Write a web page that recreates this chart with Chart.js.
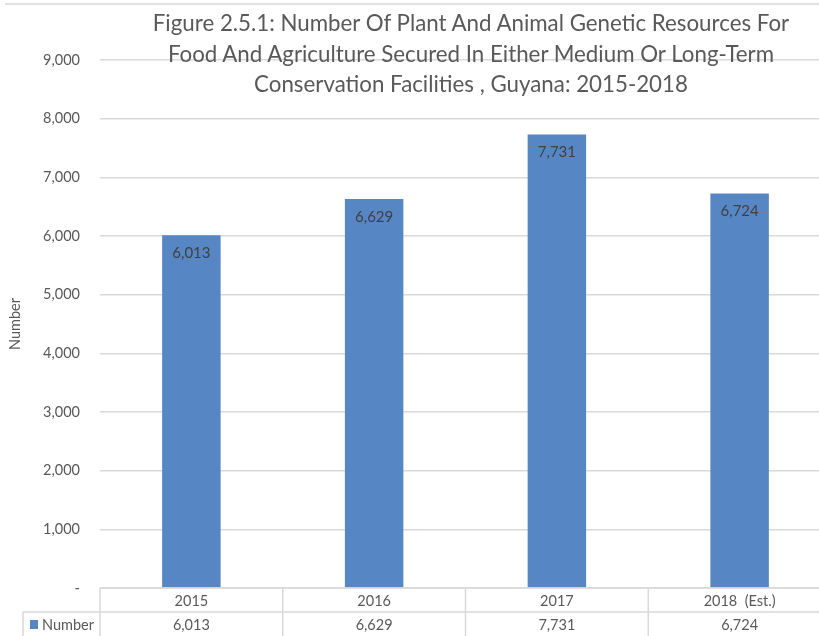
<!DOCTYPE html>
<html>
<head>
<meta charset="utf-8">
<script src="https://cdn.jsdelivr.net/npm/chart.js@4.4.1/dist/chart.umd.min.js"></script>
<style>
  body { margin: 0; background: #fff; }
  #wrap { position: relative; width: 819px; height: 636px; overflow: hidden; }
  #title {
    position: absolute; left: 0; width: 942px; top: 8px;
    text-align: center; font-family: Lato, sans-serif; font-size: 22.3px;
    line-height: 30.5px; color: #595959; pointer-events: none;
  }
</style>
</head>
<body>
<div id="wrap">
  <canvas id="chart" width="838" height="636"></canvas>
  <div id="title"></div>
</div>
<script>
const titleLines = [
  'Figure 2.5.1: Number Of Plant And Animal Genetic Resources For',
  'Food And Agriculture Secured In Either Medium Or Long-Term',
  'Conservation Facilities , Guyana: 2015-2018'
];
const years = ['2015', '2016', '2017', '2018  (Est.)'];
const numbers = [6013, 6629, 7731, 6724];
const seriesName = 'Number';
const yTicks = [0, 1000, 2000, 3000, 4000, 5000, 6000, 7000, 8000, 9000];

document.getElementById('title').innerHTML = titleLines.join('<br>');

const textColor = '#595959';
const lineColor = '#d9d9d9';
const barColor = '#5687c4';
const fmt = v => v.toLocaleString('en-US');

// labels inside the bars + the data table under the axis
const tablePlugin = {
  id: 'tablePlugin',
  afterDraw(chart) {
    const ctx = chart.ctx;
    const area = chart.chartArea;
    const x = chart.scales.x;
    const meta = chart.getDatasetMeta(0);
    ctx.save();
    ctx.font = '15px Lato';
    ctx.fillStyle = '#404040';
    ctx.textAlign = 'center';
    ctx.textBaseline = 'middle';
    meta.data.forEach((bar, i) => {
      ctx.fillText(fmt(numbers[i]), bar.x, bar.y + 18);
    });

    const row1 = area.bottom;
    const row2 = row1 + 24;
    const end = chart.height;
    const step = (area.right - area.left) / years.length;
    ctx.strokeStyle = lineColor;
    ctx.lineWidth = 1.5;
    ctx.beginPath();
    ctx.moveTo(area.left, row1); ctx.lineTo(area.right, row1);
    ctx.moveTo(23, row2); ctx.lineTo(area.right, row2);
    for (let i = 0; i <= years.length; i++) {
      const px = area.left + step * i;
      ctx.moveTo(px, row1); ctx.lineTo(px, end);
    }
    ctx.moveTo(23, row2); ctx.lineTo(23, end);
    ctx.moveTo(5, 4); ctx.lineTo(chart.width, 4);
    ctx.stroke();

    ctx.font = '14.5px Lato';
    ctx.fillStyle = textColor;
    numbers.forEach((v, i) => {
      ctx.fillText(fmt(v), x.getPixelForValue(i), row2 + 13);
    });
    ctx.fillStyle = barColor;
    ctx.fillRect(30, row2 + 8, 8, 9);
    ctx.fillStyle = textColor;
    ctx.textAlign = 'left';
    ctx.fillText(seriesName, 42, row2 + 13);
    ctx.restore();
  }
};

new Chart(document.getElementById('chart'), {
  type: 'bar',
  data: {
    labels: years,
    datasets: [{
      label: seriesName,
      data: numbers,
      backgroundColor: barColor,
      categoryPercentage: 1,
      barPercentage: 0.32
    }]
  },
  options: {
    responsive: false,
    animation: false,
    layout: { padding: { top: 60, right: 7, left: 0, bottom: 0 } },
    plugins: { legend: { display: false }, tooltip: { enabled: false } },
    scales: {
      x: {
        grid: { display: false },
        border: { display: false },
        ticks: { color: textColor, font: { family: 'Lato', size: 14.5 }, padding: -3, maxRotation: 0 },
        afterFit: s => { s.height = 48; }
      },
      y: {
        min: 0, max: 9000,
        afterBuildTicks: s => { s.ticks = yTicks.map(v => ({ value: v })); },
        grid: { color: lineColor, lineWidth: 1.5, drawTicks: false },
        border: { display: false },
        ticks: {
          color: textColor, font: { family: 'Lato', size: 14.5 }, padding: 20,
          callback: v => v === 0 ? '-' : fmt(v)
        },
        title: { display: true, text: 'Number', color: textColor, font: { family: 'Lato', size: 14.5 }, padding: { top: 7, bottom: 0 } },
        afterFit: s => { s.width = 100; }
      }
    }
  },
  plugins: [tablePlugin]
});
</script>
</body>
</html>
